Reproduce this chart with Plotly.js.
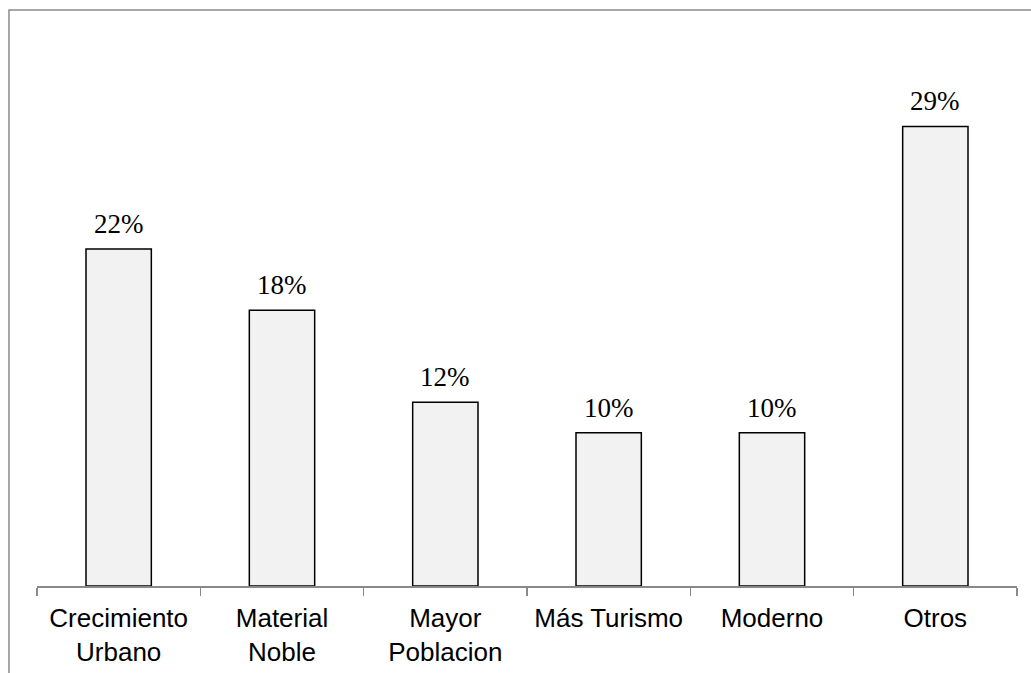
<!DOCTYPE html>
<html>
<head>
<meta charset="utf-8">
<script src="https://cdn.plot.ly/plotly-3.0.1.min.js"></script>
<style>html,body{margin:0;padding:0;background:#fff;}#chart{width:1031px;height:673px;}</style>
</head>
<body>
<div id="chart"></div>
<script>
var categories = ["Crecimiento<br>Urbano", "Material<br>Noble", "Mayor<br>Poblacion", "Más Turismo", "Moderno", "Otros"];
var values = [22, 18, 12, 10, 10, 30];
var valueLabels = ["22%", "18%", "12%", "10%", "10%", "29%"];

var trace = {
  type: "bar",
  x: categories,
  y: values,
  width: 0.4,
  marker: {color: "#f2f2f2", line: {color: "#000000", width: 1.5}},
  hoverinfo: "none"
};

var annotations = categories.map(function (c, i) {
  return {
    x: c, y: values[i], xref: "x", yref: "y",
    text: valueLabels[i], showarrow: false,
    yanchor: "bottom", yshift: 8,
    font: {family: "Liberation Serif, Times New Roman, serif", size: 27, color: "#000"}
  };
});

var layout = {
  width: 1031, height: 673,
  margin: {l: 37, r: 14, t: 10, b: 87, pad: 0},
  paper_bgcolor: "#ffffff", plot_bgcolor: "#ffffff",
  showlegend: false,
  bargap: 0.6,
  xaxis: {
    type: "category",
    showline: true, linecolor: "#898989", linewidth: 1.5,
    ticks: "outside", tickson: "boundaries", ticklen: 8, tickcolor: "#898989", tickwidth: 1.5,
    ticklabelstandoff: 8,
    showgrid: false, zeroline: false,
    tickfont: {family: "Liberation Sans, Arial, sans-serif", size: 26, color: "#000"},
    fixedrange: true
  },
  yaxis: {
    range: [0, 37.6], visible: false, showgrid: false, zeroline: false, fixedrange: true
  },
  annotations: annotations,
  shapes: [{
    type: "rect", xref: "paper", yref: "paper",
    x0: -0.0286, x1: 1.2, y0: -0.3, y1: 1,
    line: {color: "#8c8c8c", width: 1.5}, fillcolor: "rgba(0,0,0,0)", layer: "below"
  }]
};

Plotly.newPlot("chart", [trace], layout, {displayModeBar: false, staticPlot: true});
</script>
</body>
</html>
